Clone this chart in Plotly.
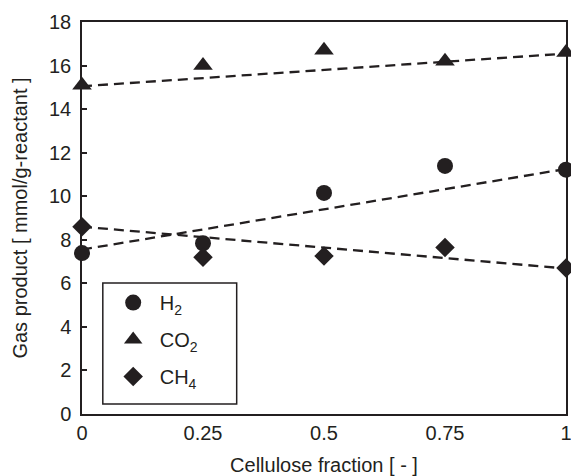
import plotly.graph_objects as go

fraction = [0, 0.25, 0.5, 0.75, 1]
h2 = [7.39, 7.84, 10.15, 11.39, 11.22]
co2 = [15.1, 16.0, 16.7, 16.2, 16.6]
ch4 = [8.6, 7.2, 7.25, 7.65, 6.7]

trend_x = [0, 1]
h2_trend = [7.55, 11.25]
co2_trend = [15.05, 16.55]
ch4_trend = [8.6, 6.68]

x_ticks = [0, 0.25, 0.5, 0.75, 1]
x_ticktext = ["0", "0.25", "0.5", "0.75", "1"]

ink = "#231f20"
font = "Liberation Sans, Arial, sans-serif"
fs = 20

fig = go.Figure()
dash = dict(color=ink, width=2.3, dash="10px,6px")
for ty in [co2_trend, h2_trend, ch4_trend]:
    fig.add_trace(go.Scatter(x=trend_x, y=ty, mode="lines", line=dash,
                             showlegend=False, hoverinfo="skip", cliponaxis=False))

series = [("H<sub>2</sub>", h2, "circle", 16),
          ("CO<sub>2</sub>", co2, "triangle-up", 17),
          ("CH<sub>4</sub>", ch4, "diamond", 15)]
for i, (name, vals, sym, sz) in enumerate(series):
    fig.add_trace(go.Scatter(x=fraction, y=vals, mode="markers", name=name,
                             legendgroup=f"g{i}",
                             marker=dict(symbol=sym, size=sz, color=ink),
                             cliponaxis=False))

fig.add_shape(type="rect", xref="paper", yref="paper",
              x0=0.043, x1=0.3196, y0=0.0255, y1=0.334,
              line=dict(color=ink, width=1.5), fillcolor="rgba(0,0,0,0)")

fig.update_layout(
    width=571, height=476,
    margin=dict(l=82, r=5, t=22, b=62, autoexpand=False),
    paper_bgcolor="white", plot_bgcolor="white",
    font=dict(family=font, size=fs, color=ink),
    legend=dict(x=0.051, y=0.334, xanchor="left", yanchor="top",
                bgcolor="rgba(0,0,0,0)", borderwidth=0,
                font=dict(size=fs, family=font, color=ink),
                tracegroupgap=8, itemsizing="trace", itemwidth=43),
    xaxis=dict(range=[0, 1], tickvals=x_ticks, ticktext=x_ticktext,
               showline=True, mirror=True, linecolor=ink, linewidth=1.5,
               showgrid=False, zeroline=False, ticks="", automargin=False,
               ticklabeloverflow="allow",
               title=dict(text="Cellulose fraction [ - ]", standoff=17,
                          font=dict(size=fs)),
               tickfont=dict(size=fs)),
    yaxis=dict(range=[0, 18], dtick=2, tick0=0,
               showline=True, mirror=True, linecolor=ink, linewidth=1.5,
               showgrid=False, zeroline=False, ticks="inside", ticklen=5,
               tickcolor=ink, tickwidth=1.5, automargin=False,
               ticklabelstandoff=5,
               title=dict(text="Gas product [ mmol/g-reactant ]", standoff=16,
                          font=dict(size=fs)),
               tickfont=dict(size=fs)),
)

fig.write_html("out.html", config={"displayModeBar": False},
               post_script="document.body.style.margin='0';")
